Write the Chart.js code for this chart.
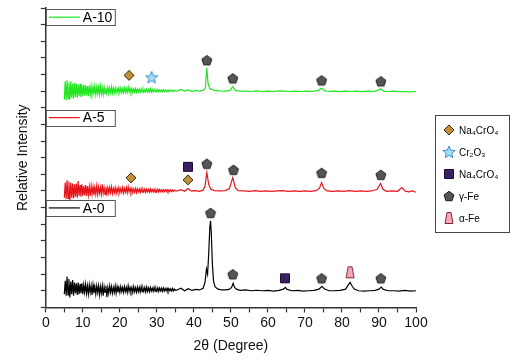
<!DOCTYPE html>
<html>
<head>
<meta charset="utf-8">
<script src="https://cdn.jsdelivr.net/npm/chart.js@4.4.1/dist/chart.umd.min.js"></script>
<style>
  html, body { margin: 0; padding: 0; background: #fff; }
</style>
</head>
<body>
<canvas id="xrd" width="520" height="360"></canvas>
<script>
// --- data (y already includes the stacking offset) ---
const seriesNames = ['A-10', 'A-5', 'A-0'];
const seriesColors = ['#22e622', '#e8141c', '#000000'];

// noisy low-angle part, sampled 5.00 .. 35.00 every 0.25 deg
const noiseStart = 5, noiseStep = 0.25;
const noiseA10 = [
  12.5,13.6,12.45,13.65,12.55,13.5,12.5,13.6,12.6,13.45,12.55,13.5,
  12.65,13.45,12.6,13.4,12.7,13.45,12.65,13.35,12.7,13.4,12.75,13.35,
  12.75,13.3,12.7,13.35,12.8,13.3,12.75,13.25,12.8,13.3,12.8,13.25,
  12.85,13.25,12.8,13.3,12.85,13.2,12.8,13.25,12.85,13.2,12.88,13.22,
  12.85,13.2,12.9,13.25,12.88,13.18,12.9,13.2,12.9,13.15,12.92,13.2,
  12.9,13.18,12.92,13.15,12.9,13.2,12.93,13.15,12.92,13.25,12.95,13.15,
  12.93,13.15,12.92,13.13,12.95,13.15,12.93,13.12,12.95,13.13,12.94,13.12,
  12.95,13.12,12.94,13.1,12.96,13.12,12.95,13.1,12.96,13.15,12.95,13.1,
  12.96,13.1,12.97,13.08,12.96,13.1,12.97,13.08,12.98,13.07,12.97,13.08,
  12.98,13.07,12.97,13.06,12.99,13.07,12.98,13.06,12.99,13.05,12.98,13.06,
  13.02
];
const noiseA5 = [
  6.6,7.5,6.5,7.65,6.55,7.55,6.4,7.5,6.6,7.45,6.55,7.4,
  6.65,7.45,6.6,7.6,6.7,7.35,6.65,7.4,6.7,7.3,6.75,7.35,
  6.7,7.3,6.75,7.25,6.7,7.3,6.8,7.25,6.75,7.2,6.8,7.3,
  6.8,7.25,6.85,7.2,6.8,7.4,6.85,7.2,6.8,7.25,6.85,7.2,
  6.85,7.2,6.9,7.25,6.85,7.15,6.9,7.2,6.85,7.15,6.9,7.2,
  6.9,7.15,6.92,7.2,6.88,7.15,6.92,7.2,6.9,7.25,6.95,7.15,
  6.92,7.15,6.9,7.12,6.93,7.15,6.9,7.13,6.95,7.12,6.92,7.14,
  6.93,7.1,6.95,7.12,6.92,7.1,6.95,7.1,6.93,7.12,6.95,7.08,
  6.95,7.1,6.93,7.08,6.96,7.1,6.94,7.08,6.96,7.07,6.95,7.08,
  6.96,7.07,6.97,7.08,6.95,7.06,6.97,7.07,6.96,7.05,6.98,7.05,
  7.0
];
const noiseA0 = [
  0.8,1.6,0.7,1.85,0.75,1.7,0.6,1.55,0.8,1.65,0.7,1.5,
  0.85,1.45,0.75,1.5,0.8,1.4,0.85,1.45,0.8,1.35,0.9,1.4,
  0.85,1.3,0.8,1.35,0.9,1.3,0.75,1.35,0.85,1.25,0.8,1.3,
  0.9,1.3,0.75,1.25,0.85,1.3,0.7,1.25,0.9,1.3,0.62,1.2,
  0.85,1.3,0.9,1.25,0.85,1.2,0.9,1.3,0.85,1.25,0.9,1.2,
  0.9,1.25,0.95,1.2,0.9,1.25,0.95,1.2,0.9,1.3,0.95,1.2,
  0.95,1.2,0.9,1.25,0.95,1.18,0.92,1.22,0.95,1.2,0.93,1.25,
  0.95,1.18,0.97,1.2,0.93,1.22,0.96,1.17,0.95,1.2,0.98,1.16,
  0.96,1.2,0.97,1.15,0.98,1.18,0.96,1.16,0.99,1.15,0.97,1.17,
  0.98,1.14,1.0,1.15,0.97,1.13,1.0,1.12,0.98,1.14,1.0,1.1,
  1.02
];

// rest of each pattern, [2theta, intensity]
const peaksA10 = [
  [35.5,13.0],[36.5,13.1],[37.5,13.0],[38.5,13.08],[39.5,12.98],[40.5,13.05],[41.5,13.0],[42.5,13.05],
  [43.1,13.2],[43.5,14.4],[43.8,13.5],[44.3,13.15],[45.5,13.05],[47,13.02],[48.5,13.0],[49.8,13.05],
  [50.5,13.28],[51.2,13.05],[52.5,13.0],[54,13.0],[55.5,12.98],[57,13.02],[58.5,12.98],[60,13.0],
  [61.5,12.98],[63,13.02],[64.5,13.0],[66,12.98],[67.5,13.0],[69,12.98],[70.5,13.0],[72,12.98],
  [73.6,13.05],[74.5,13.18],[75.3,13.03],[76.5,12.98],[78,13.0],[79.5,12.97],[81,13.0],[82.5,12.98],
  [84,13.0],[85.5,12.97],[87,13.0],[88.5,12.98],[89.8,13.05],[90.5,13.14],[91.2,13.0],[92.5,12.98],
  [94,13.0],[95.5,12.97],[97,12.98],[98.5,12.96],[100,12.98]
];
const peaksA5 = [
  [35.5,7.0],[36.5,7.08],[37.5,6.98],[38.4,7.15],[39.2,7.0],[40.5,7.02],[41.5,6.98],[42.5,7.05],
  [43.0,7.3],[43.5,8.1],[44.0,7.4],[44.6,7.1],[45.5,7.02],[47,7.0],[48.5,7.02],[49.6,7.15],
  [50.5,7.8],[51.2,7.2],[52,7.02],[53.5,7.0],[55,6.98],[56.5,7.02],[58,6.98],[59.5,7.0],
  [61,6.97],[62.5,7.0],[64,7.02],[65.5,6.98],[67,7.0],[68.5,6.98],[70,7.0],[71.5,6.98],
  [73,7.02],[73.9,7.15],[74.5,7.5],[75.1,7.15],[76,7.0],[77.5,6.98],[79,7.0],[80.5,6.97],
  [82,7.02],[83.5,6.98],[85,7.0],[86.5,6.98],[88,7.0],[89.5,7.1],[90.4,7.45],[91.1,7.1],
  [92,6.98],[93.5,7.0],[95,6.98],[96.2,7.2],[97,7.0],[98,6.95],[99,7.0],[100,6.92]
];
const peaksA0 = [
  [35.5,1.05],[36.5,1.15],[37.5,1.0],[38.5,1.12],[39.5,1.02],[40.5,1.08],[41.5,1.05],[42.5,1.15],
  [43.0,1.5],[43.4,2.3],[43.7,2.0],[44.0,3.2],[44.3,4.8],[44.5,5.2],[44.7,4.5],[45.0,2.6],
  [45.3,1.6],[45.7,1.25],[46.5,1.1],[47.5,1.05],[48.5,1.05],[49.5,1.08],[50.2,1.2],[50.6,1.45],
  [51.0,1.2],[51.6,1.08],[52.5,1.02],[54,1.05],[55.5,1.0],[57,1.03],[58.5,1.0],[60,1.02],
  [61.5,0.98],[63,1.02],[64.2,1.1],[64.7,1.2],[65.2,1.08],[66.5,1.0],[68,1.02],[69.5,0.98],
  [71,1.0],[72.5,1.02],[73.8,1.1],[74.6,1.27],[75.3,1.1],[76.5,1.0],[78,1.0],[79.5,1.02],
  [81,1.1],[81.7,1.35],[82.2,1.5],[82.7,1.3],[83.3,1.1],[84.5,1.0],[86,0.98],[87.5,1.0],
  [89,1.02],[90.0,1.1],[90.6,1.22],[91.2,1.08],[92.5,1.0],[94,1.0],[95.5,0.98],[97,1.02],
  [98.5,0.98],[100,1.0]
];

// phase markers
const phaseNames = ['Na\u2084CrO\u2084', 'Cr\u2082O\u2083', 'Na\u2084CrO\u2084', '\u03b3-Fe', '\u03b1-Fe'];
const diamondX = [22.5, 23.0, 38.4];
const diamondY = [13.95, 7.79, 7.67];
const starX = [28.6];
const starY = [13.83];
const squareX = [38.4, 64.6];
const squareY = [8.45, 1.75];
const pentagonX = [43.5, 50.5, 74.5, 90.5, 43.5, 50.7, 74.5, 90.5, 44.5, 50.5, 74.5, 90.5];
const pentagonY = [14.86, 13.77, 13.65, 13.59, 8.64, 8.27, 8.09, 7.97, 5.68, 1.99, 1.75, 1.75];
const trapX = [82.2];
const trapY = [2.11];

function buildTrace(noise, tail) {
  const pts = noise.map((v, i) => ({ x: noiseStart + i * noiseStep, y: v }));
  tail.forEach(p => pts.push({ x: p[0], y: p[1] }));
  return pts;
}
function pairs(xs, ys) {
  return xs.map((x, i) => ({ x: x, y: ys[i] }));
}

// little canvases used as point styles
function makeMarker(shape, fill, stroke) {
  const c = document.createElement('canvas');
  c.width = 14; c.height = 14;
  const g = c.getContext('2d');
  g.fillStyle = fill; g.strokeStyle = stroke; g.lineWidth = 1;
  g.beginPath();
  if (shape === 'diamond') {
    g.moveTo(7, 2); g.lineTo(12, 7); g.lineTo(7, 12); g.lineTo(2, 7);
  } else if (shape === 'square') {
    g.rect(2.5, 2.5, 9, 9);
  } else if (shape === 'pentagon') {
    for (let k = 0; k < 5; k++) {
      const a = -Math.PI / 2 + k * 2 * Math.PI / 5;
      g.lineTo(7 + 5.2 * Math.cos(a), 7.5 + 5.2 * Math.sin(a));
    }
  } else if (shape === 'star') {
    for (let k = 0; k < 10; k++) {
      const a = -Math.PI / 2 + k * Math.PI / 5;
      const r = k % 2 === 0 ? 6.5 : 2.8;
      g.lineTo(7 + r * Math.cos(a), 7.5 + r * Math.sin(a));
    }
  } else if (shape === 'trap') {
    g.moveTo(5, 1.5); g.lineTo(9, 1.5); g.lineTo(11, 12.5); g.lineTo(3, 12.5);
  }
  g.closePath();
  g.fill(); g.stroke();
  return c;
}

const markers = [
  makeMarker('diamond', '#c0913a', '#3b2a0c'),
  makeMarker('star', '#a9dcf5', '#3d8fca'),
  makeMarker('square', '#3b1f60', '#1c0c34'),
  makeMarker('pentagon', '#555555', '#1c1c1c'),
  makeMarker('trap', '#f6a7b8', '#7a2535')
];

const traces = [buildTrace(noiseA10, peaksA10), buildTrace(noiseA5, peaksA5), buildTrace(noiseA0, peaksA0)];

const datasets = traces.map((d, i) => ({
  type: 'line',
  label: seriesNames[i],
  data: d,
  borderColor: seriesColors[i],
  borderWidth: 1.2,
  pointRadius: 0,
  tension: 0,
  order: 2
}));
[pairs(diamondX, diamondY), pairs(starX, starY), pairs(squareX, squareY),
 pairs(pentagonX, pentagonY), pairs(trapX, trapY)].forEach((d, i) => {
  datasets.push({
    type: 'scatter',
    label: phaseNames[i],
    data: d,
    pointStyle: markers[i],
    order: 1
  });
});

// inner series boxes + phase legend on the right
const legendPlugin = {
  id: 'xrdLegends',
  afterDraw(chart) {
    const g = chart.ctx;
    const area = chart.chartArea;
    const yScale = chart.scales.y;
    g.save();
    g.font = '14px "Liberation Sans", Arial, sans-serif';
    g.textBaseline = 'middle';
    const centers = [17.45, 11.41, 5.98];
    seriesNames.forEach((name, i) => {
      const cy = yScale.getPixelForValue(centers[i]);
      g.strokeStyle = '#555';
      g.lineWidth = 1;
      g.strokeRect(area.left + 0.5, Math.round(cy - 8) + 0.5, 69, 16);
      g.strokeStyle = seriesColors[i];
      g.lineWidth = 1.2;
      g.beginPath();
      g.moveTo(area.left + 3, cy); g.lineTo(area.left + 34, cy);
      g.stroke();
      g.fillStyle = '#000';
      g.fillText(name, area.left + 37, cy + 1);
    });

    const bx = 435, by = 115, bw = 74, bh = 117;
    g.fillStyle = '#fff';
    g.fillRect(bx, by, bw, bh);
    g.strokeStyle = '#444';
    g.lineWidth = 1;
    g.strokeRect(bx + 0.5, by + 0.5, bw, bh);
    g.font = '10px "Liberation Sans", Arial, sans-serif';
    phaseNames.forEach((name, i) => {
      const cy = by + 15 + i * 22;
      g.drawImage(markers[i], bx + 7, cy - 7);
      g.fillStyle = '#000';
      g.fillText(name, bx + 24, cy + 1);
    });
    g.restore();
  }
};

new Chart(document.getElementById('xrd'), {
  data: { datasets: datasets },
  options: {
    responsive: false,
    animation: false,
    layout: { padding: { left: 14, right: 104, top: 8, bottom: 5 } },
    plugins: { legend: { display: false }, tooltip: { enabled: false } },
    scales: {
      x: {
        type: 'linear',
        min: 0, max: 100,
        border: { color: '#333', width: 1.5 },
        grid: { drawOnChartArea: false, tickLength: 5, color: '#333', tickWidth: 1.2 },
        ticks: {
          stepSize: 5, autoSkip: false, maxRotation: 0, color: '#111',
          font: { size: 14, family: '"Liberation Sans", Arial, sans-serif' },
          padding: 2,
          callback: v => (v % 10 === 0 ? v : '')
        },
        title: {
          display: true, text: '2\u03b8 (Degree)', color: '#111',
          font: { size: 14, family: '"Liberation Sans", Arial, sans-serif' },
          padding: { top: 5, bottom: 0 }
        }
      },
      y: {
        type: 'linear',
        min: 0, max: 18,
        border: { color: '#333', width: 1.5 },
        grid: { drawOnChartArea: false, tickLength: 5, color: '#333', tickWidth: 1.2 },
        ticks: { stepSize: 1, display: false },
        title: {
          display: true, text: 'Relative Intensity', color: '#111',
          font: { size: 14, family: '"Liberation Sans", Arial, sans-serif' },
          padding: { top: 1, bottom: 9 }
        }
      }
    }
  },
  plugins: [legendPlugin]
});
</script>
</body>
</html>
